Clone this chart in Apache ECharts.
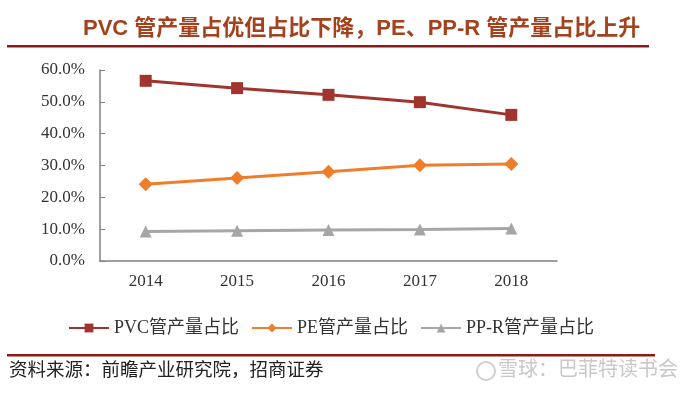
<!DOCTYPE html>
<html>
<head>
<meta charset="utf-8">
<script src="https://cdn.jsdelivr.net/npm/echarts@6/dist/echarts.min.js"></script>
<style>html,body{margin:0;padding:0;background:#fff}#c{width:692px;height:394px}</style>
</head>
<body>
<div id="c"></div>
<script>
var categories = ['2014', '2015', '2016', '2017', '2018'];
var pvcShare = [56.6, 54.3, 52.2, 49.9, 45.9];
var peShare = [24.1, 26.1, 28.0, 30.1, 30.5];
var pprShare = [9.3, 9.5, 9.7, 9.9, 10.2];
var seriesNames = ['PVC管产量占比', 'PE管产量占比', 'PP-R管产量占比'];
var yTicks = [0, 10, 20, 30, 40, 50, 60];

var serif = '"Liberation Serif", "Noto Sans CJK SC", serif';
var chart = echarts.init(document.getElementById('c'), null, {renderer: 'canvas'});
chart.setOption({
  backgroundColor: '#fff',
  animation: false,
  grid: {left: 100, right: 135, top: 70, bottom: 133},
  legend: {
    left: 63, top: 314,
    itemWidth: 40, itemHeight: 11, itemGap: 12,
    textStyle: {fontFamily: serif, fontSize: 18, color: '#333'},
    data: seriesNames
  },
  xAxis: {
    type: 'category', data: categories, boundaryGap: true,
    axisLine: {lineStyle: {color: '#808080', width: 1.5}},
    axisTick: {inside: true, length: 5, lineStyle: {color: '#808080'}},
    axisLabel: {fontFamily: serif, fontSize: 17, color: '#333', margin: 12}
  },
  yAxis: {
    type: 'value', min: yTicks[0], max: yTicks[yTicks.length - 1], interval: 10,
    axisLine: {show: true, lineStyle: {color: '#808080', width: 1.5}},
    axisTick: {show: true, inside: true, length: 5, lineStyle: {color: '#808080'}},
    splitLine: {show: false},
    axisLabel: {fontFamily: serif, fontSize: 17, color: '#333', margin: 15,
      formatter: function (v) { return v.toFixed(1) + '%'; }}
  },
  series: [
    {name: seriesNames[0], type: 'line', data: pvcShare, symbol: 'rect', symbolSize: 12,
     lineStyle: {color: '#a0342e', width: 3}, itemStyle: {color: '#a0342e'}},
    {name: seriesNames[1], type: 'line', data: peShare, symbol: 'diamond', symbolSize: 14,
     lineStyle: {color: '#f07d2a', width: 3}, itemStyle: {color: '#f07d2a'}},
    {name: seriesNames[2], type: 'line', data: pprShare, symbol: 'triangle', symbolSize: 12,
     lineStyle: {color: '#a6a6a6', width: 3}, itemStyle: {color: '#a6a6a6'}}
  ],
  graphic: [
    {type: 'text', left: 83, top: 18, style: {
      text: 'PVC 管产量占优但占比下降，PE、PP-R 管产量占比上升',
      fontFamily: '"Liberation Sans", "Noto Sans CJK SC", sans-serif',
      fontWeight: 'bold', fontSize: 22, fill: '#a3421c'}},
    {type: 'rect', shape: {x: 7, y: 45, width: 642, height: 2.5}, style: {fill: '#8c1a1a'}},
    {type: 'rect', shape: {x: 7, y: 354, width: 648, height: 2.5}, style: {fill: '#8c1a1a'}},
    {type: 'text', left: 9, top: 360, style: {
      text: '资料来源：前瞻产业研究院，招商证券',
      fontFamily: '"Noto Sans CJK SC", sans-serif', fontSize: 18.5, fill: '#222'}},
    {type: 'circle', shape: {cx: 486, cy: 371, r: 9}, style: {fill: 'none', stroke: '#cfcfcf', lineWidth: 2}},
    {type: 'text', right: 14, top: 358, style: {
      text: '雪球：巴菲特读书会',
      fontFamily: '"Noto Sans CJK SC", sans-serif', fontSize: 20, fill: '#c8c8c8'}}
  ]
});
</script>
</body>
</html>
